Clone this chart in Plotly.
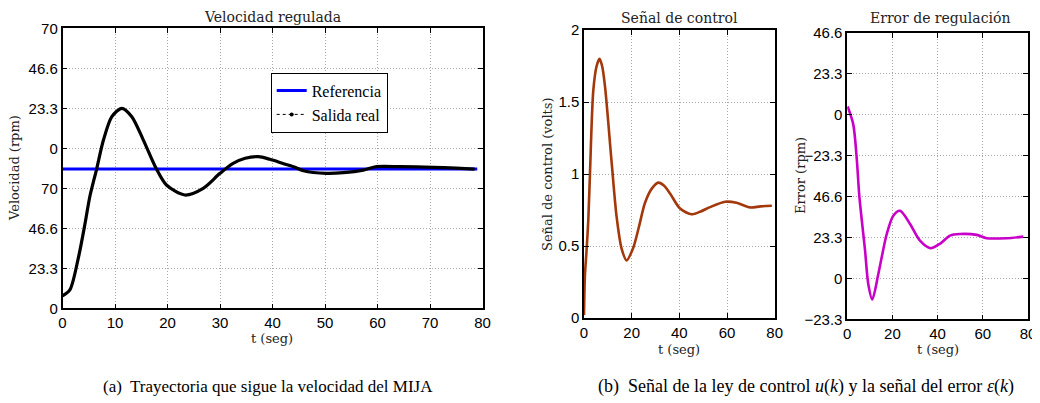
import plotly.graph_objects as go

# ---------------- data ----------------
# (a) velocity
t_vel = [0, 1.4, 3.0, 4.3, 5.2, 6.5, 7.8, 9.4, 11.3, 13.2, 15.4, 17.9, 19.8, 23.3, 26.8,
         30, 32.5, 34.8, 37.3, 39.5, 42, 44, 45.9, 50.3, 53.5, 57.3, 59.8, 64.3, 70.6, 75, 78.5]
vel = [7.2, 10.7, 29.1, 49.5, 65, 81.1, 98, 111.6, 116.5, 111.6, 98, 81.1, 71.8, 66, 69.9,
       78.6, 84.4, 87.4, 88.3, 86.8, 84.4, 82.5, 80.1, 78.6, 79, 80.5, 82.5, 82.5, 82.1, 81.6, 81.1]
t_ref = [0, 79]
ref = [81.1, 81.1]
vel_ticks = [0, 23.3, 46.6, 69.9, 93.2, 116.5, 139.8, 163.1]
vel_ticktext = ["0", "23.3", "46.6", "70", "0", "23.3", "46.6", "70"]

# (b) control signal
t_u = [0, 0.4, 1.0, 1.8, 2.5, 3.9, 5.3, 6.5, 7.6, 8.8, 11.6, 13.7, 15.8, 17.9, 20.7, 23, 25.6,
       28.5, 31.2, 33.5, 36.1, 40.3, 45.2, 49, 52.9, 59.2, 64, 69.7, 74, 78.8]
u = [0.02, 0.30, 0.45, 0.68, 1.0, 1.58, 1.75, 1.80, 1.75, 1.61, 1.08, 0.70, 0.48, 0.40, 0.49, 0.63,
     0.80, 0.90, 0.94, 0.92, 0.865, 0.76, 0.72, 0.74, 0.77, 0.807, 0.80, 0.768, 0.775, 0.779]
u_ticks = [0, 0.5, 1, 1.5, 2]
u_ticktext = ["0", "0.5", "1", "1.5", "2"]

# (b) regulation error
t_e = [0.2, 2.7, 4.2, 5.4, 7.9, 9.3, 11.1, 13.8, 17.5, 20.4, 23.4, 27.8, 32.2, 36.9, 41,
       45.5, 49.9, 57.3, 61.7, 70.6, 77.9]
err = [97.9, 87.6, 68.7, 46.4, 15.9, -3, -12, 2.7, 25.3, 35.7, 38.5, 31, 21.5, 17.2, 19.7,
       24.4, 25.3, 24.8, 22.9, 22.9, 23.8]
e_ticks = [-23.3, 0, 23.3, 46.6, 69.9, 93.2, 116.5, 139.8]
e_ticktext = ["\u221223.3", "0", "23.3", "46.6", "\u221223.3", "0", "23.3", "46.6"]

t_ticks_a = [0, 10, 20, 30, 40, 50, 60, 70, 80]
t_ticks_b = [0, 20, 40, 60, 80]

SERIF = "DejaVu Serif"
LEG_SERIF = "Liberation Serif"
CAP_SERIF = "Liberation Serif"
SANS = "Liberation Sans"

fig = go.Figure()
fig.add_trace(go.Scatter(x=t_ref, y=ref, mode="lines", name="Referencia",
                         line=dict(color="#0000FF", width=3), xaxis="x", yaxis="y"))
fig.add_trace(go.Scatter(x=t_vel, y=vel, mode="lines", showlegend=False,
                         line=dict(color="black", width=3.2, shape="spline", smoothing=0.8),
                         xaxis="x", yaxis="y"))
fig.add_trace(go.Scatter(x=[None], y=[None], mode="lines+markers", name="Salida real",
                         line=dict(color="black", width=1, dash="dot"),
                         marker=dict(color="black", size=4), xaxis="x", yaxis="y"))
fig.add_trace(go.Scatter(x=t_u, y=u, mode="lines", showlegend=False,
                         line=dict(color="#A3380B", width=2.6, shape="spline", smoothing=0.8),
                         xaxis="x2", yaxis="y2"))
fig.add_trace(go.Scatter(x=t_e, y=err, mode="lines", showlegend=False,
                         line=dict(color="#C800C8", width=2.6, shape="spline", smoothing=0.8),
                         xaxis="x3", yaxis="y3"))

# the page body adds an 8 px margin at top-left; work in screen pixels and compensate
OFF = 8
W, H = 1040 - OFF, 403 - OFF
def px(x):
    return (x - OFF) / W
def py(y):
    return 1 - (y - OFF) / H

axis_common = dict(showline=True, linecolor="black", linewidth=1.5, mirror="ticks",
                   ticks="inside", ticklen=5, tickcolor="black", showgrid=True,
                   gridcolor="#a8a8a8", griddash="1px,2px", gridwidth=1, zeroline=False,
                   tickfont=dict(family=SANS, size=15, color="black"), automargin=False)

fig.update_layout(
    width=W, height=H, margin=dict(l=0, r=0, t=0, b=0),
    paper_bgcolor="white", plot_bgcolor="white",
    xaxis=dict(domain=[px(62.5), px(482.5)], range=[0, 80], tickvals=t_ticks_a,
               anchor="y", **axis_common),
    yaxis=dict(domain=[py(308.3), py(28.3)], range=[0, 163.1], tickvals=vel_ticks,
               ticktext=vel_ticktext, anchor="x", **axis_common),
    xaxis2=dict(domain=[px(584), px(774.7)], range=[0, 80], tickvals=t_ticks_b,
                anchor="y2", **axis_common),
    yaxis2=dict(domain=[py(318), py(30)], range=[0, 2], tickvals=u_ticks,
                ticktext=u_ticktext, anchor="x2", **axis_common),
    xaxis3=dict(domain=[px(847.2), px(1028)], range=[0, 80], tickvals=t_ticks_b,
                anchor="y3", **axis_common),
    yaxis3=dict(domain=[py(319.3), py(33)], range=[-23.3, 139.8], tickvals=e_ticks,
                ticktext=e_ticktext, anchor="x3", **axis_common),
    legend=dict(x=px(270.7), y=py(72.7), xanchor="left", yanchor="top",
                bgcolor="white", bordercolor="black", borderwidth=1,
                font=dict(family=LEG_SERIF, size=16, color="black"),
                tracegroupgap=0, itemwidth=30),
    showlegend=True,
)

ann = []
def add_text(text, x, y, size=14, angle=0, family=SERIF, color="#222222"):
    ann.append(dict(text=text, x=px(x), y=py(y), xref="paper", yref="paper",
                    showarrow=False, textangle=angle, xanchor="center", yanchor="middle",
                    font=dict(family=family, size=size, color=color)))

add_text("Velocidad regulada", 272, 17)
add_text("Señal de control", 679, 18)
add_text("Error de regulación", 940, 18)
add_text("t (seg)", 272, 338, size=13)
add_text("t (seg)", 679, 349, size=13)
add_text("t (seg)", 938, 349, size=13)
add_text("Velocidad (rpm)", 15, 168, size=13, angle=-90)
add_text("Señal de control (volts)", 547, 174, size=13, angle=-90)
add_text("Error (rpm)", 800, 176, size=13, angle=-90)
add_text("(a)  Trayectoria que sigue la velocidad del MIJA", 268, 386, size=17,
         family=CAP_SERIF, color="black")
add_text("(b)  Señal de la ley de control <i>u</i>(<i>k</i>) y la señal del error <i>ε</i>(<i>k</i>)",
         806, 386, size=18, family=CAP_SERIF, color="black")
fig.update_layout(annotations=ann)

fig.write_html("out.html")
